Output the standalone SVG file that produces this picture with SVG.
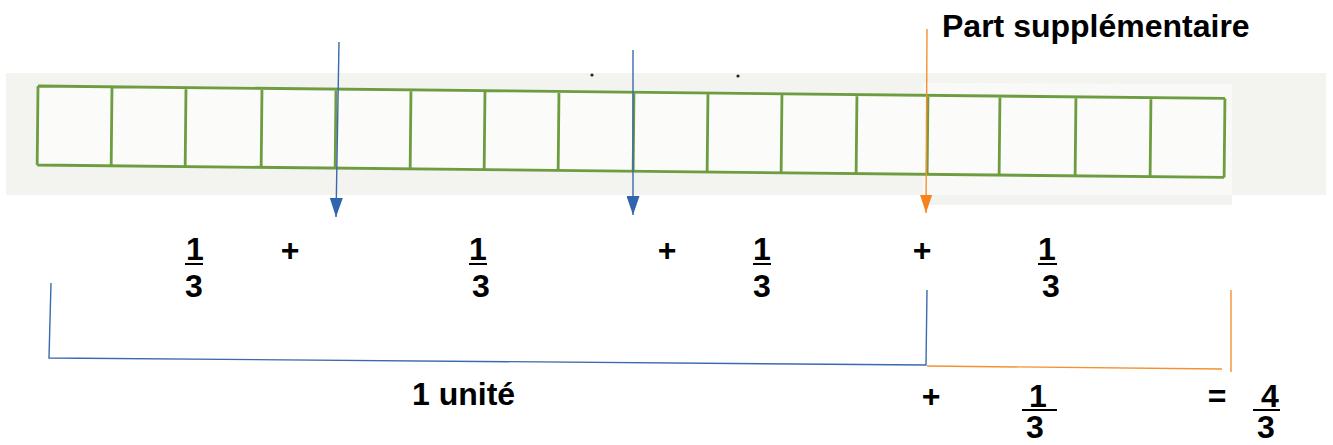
<svg xmlns="http://www.w3.org/2000/svg" width="1333" height="445" viewBox="0 0 1333 445">
  <style>
    .t { font-family: "Liberation Sans", Arial, sans-serif; font-weight: bold; font-size: 32px; fill: #000; }
    .m { text-anchor: middle; }
    .grid { fill: none; stroke: #6e9c40; stroke-width: 2.8; }
    .bar { stroke: #000; stroke-width: 2; }
    .blue { stroke: #3b69ad; stroke-width: 1.4; fill: none; }
    .orange { stroke: #f5902e; stroke-width: 1.4; fill: none; }
  </style>
  <defs>
    <marker id="ahBlue" markerUnits="userSpaceOnUse" markerWidth="19" markerHeight="13" refX="19" refY="6.5" orient="auto" viewBox="0 0 19 13">
      <path d="M0,0 L19,6.5 L0,13 z" fill="#2f65ad"/>
    </marker>
    <marker id="ahOrange" markerUnits="userSpaceOnUse" markerWidth="18" markerHeight="12" refX="18" refY="6" orient="auto" viewBox="0 0 18 12">
      <path d="M0,0 L18,6 L0,12 z" fill="#f5821f"/>
    </marker>
  </defs>

  <rect width="1333" height="445" fill="#ffffff"/>

  <g id="strip">
    <rect x="6" y="73" width="1320" height="122" fill="#f3f3f0"/>
    <polygon points="923,83 1232,84 1232,205 923,205" fill="#f9f9f7"/>
    <polygon points="923,195 1232,195 1232,205 923,205" fill="#f2f2ef"/>
    <g transform="rotate(0.6 38 86)">
      <rect x="38" y="86" width="1187" height="79" fill="#fbfbf9"/>
      <path class="grid" d="M38,86 H1225 M38,165 H1225 M38,86 V165 M112,86 V165 M186,86 V165 M262,86 V165 M336,86 V165 M411,86 V165 M485,86 V165 M559,86 V165 M634,86 V165 M708,86 V165 M782,86 V165 M857,86 V165 M928,86 V165 M1000,86 V165 M1076,86 V165 M1151,86 V165 M1225,86 V165"/>
    </g>
    <circle cx="592" cy="75" r="1.6" fill="#222"/>
    <circle cx="738" cy="76" r="1.6" fill="#222"/>
  </g>

  <g id="connectors">
    <line class="blue" x1="339" y1="42" x2="336" y2="217" marker-end="url(#ahBlue)"/>
    <line class="blue" x1="633" y1="50" x2="633" y2="215" marker-end="url(#ahBlue)"/>
    <line class="orange" x1="927" y1="29" x2="926" y2="213" marker-end="url(#ahOrange)"/>
    <polyline class="blue" points="51,283 49,358 926,365 927,290"/>
    <line class="orange" x1="927" y1="366" x2="1222" y2="369"/>
    <line class="orange" x1="1231" y1="290" x2="1231" y2="372"/>
  </g>

  <g id="title">
    <text class="t" x="942" y="37">Part supplémentaire</text>
  </g>

  <g id="top-fractions">
    <text class="t m" x="195" y="260">1</text>
    <line class="bar" x1="185" y1="264" x2="203" y2="264"/>
    <text class="t m" x="194" y="297">3</text>

    <text class="t m" x="290" y="261">+</text>

    <text class="t m" x="478" y="260">1</text>
    <line class="bar" x1="469" y1="264" x2="487" y2="264"/>
    <text class="t m" x="481" y="297">3</text>

    <text class="t m" x="667" y="261">+</text>

    <text class="t m" x="762" y="260">1</text>
    <line class="bar" x1="753" y1="264" x2="771" y2="264"/>
    <text class="t m" x="762" y="297">3</text>

    <text class="t m" x="922" y="261">+</text>

    <text class="t m" x="1047" y="260">1</text>
    <line class="bar" x1="1038" y1="264" x2="1057" y2="264"/>
    <text class="t m" x="1051" y="297">3</text>
  </g>

  <g id="bottom-line">
    <text class="t" x="412" y="405">1 unité</text>
    <text class="t m" x="931" y="407">+</text>
    <text class="t m" x="1038" y="407">1</text>
    <line class="bar" x1="1022" y1="410" x2="1057" y2="410"/>
    <text class="t m" x="1035" y="438">3</text>
    <text class="t m" x="1217" y="407">=</text>
    <text class="t m" x="1270" y="407">4</text>
    <line class="bar" x1="1253" y1="410" x2="1280" y2="410"/>
    <text class="t m" x="1266" y="438">3</text>
  </g>
</svg>
